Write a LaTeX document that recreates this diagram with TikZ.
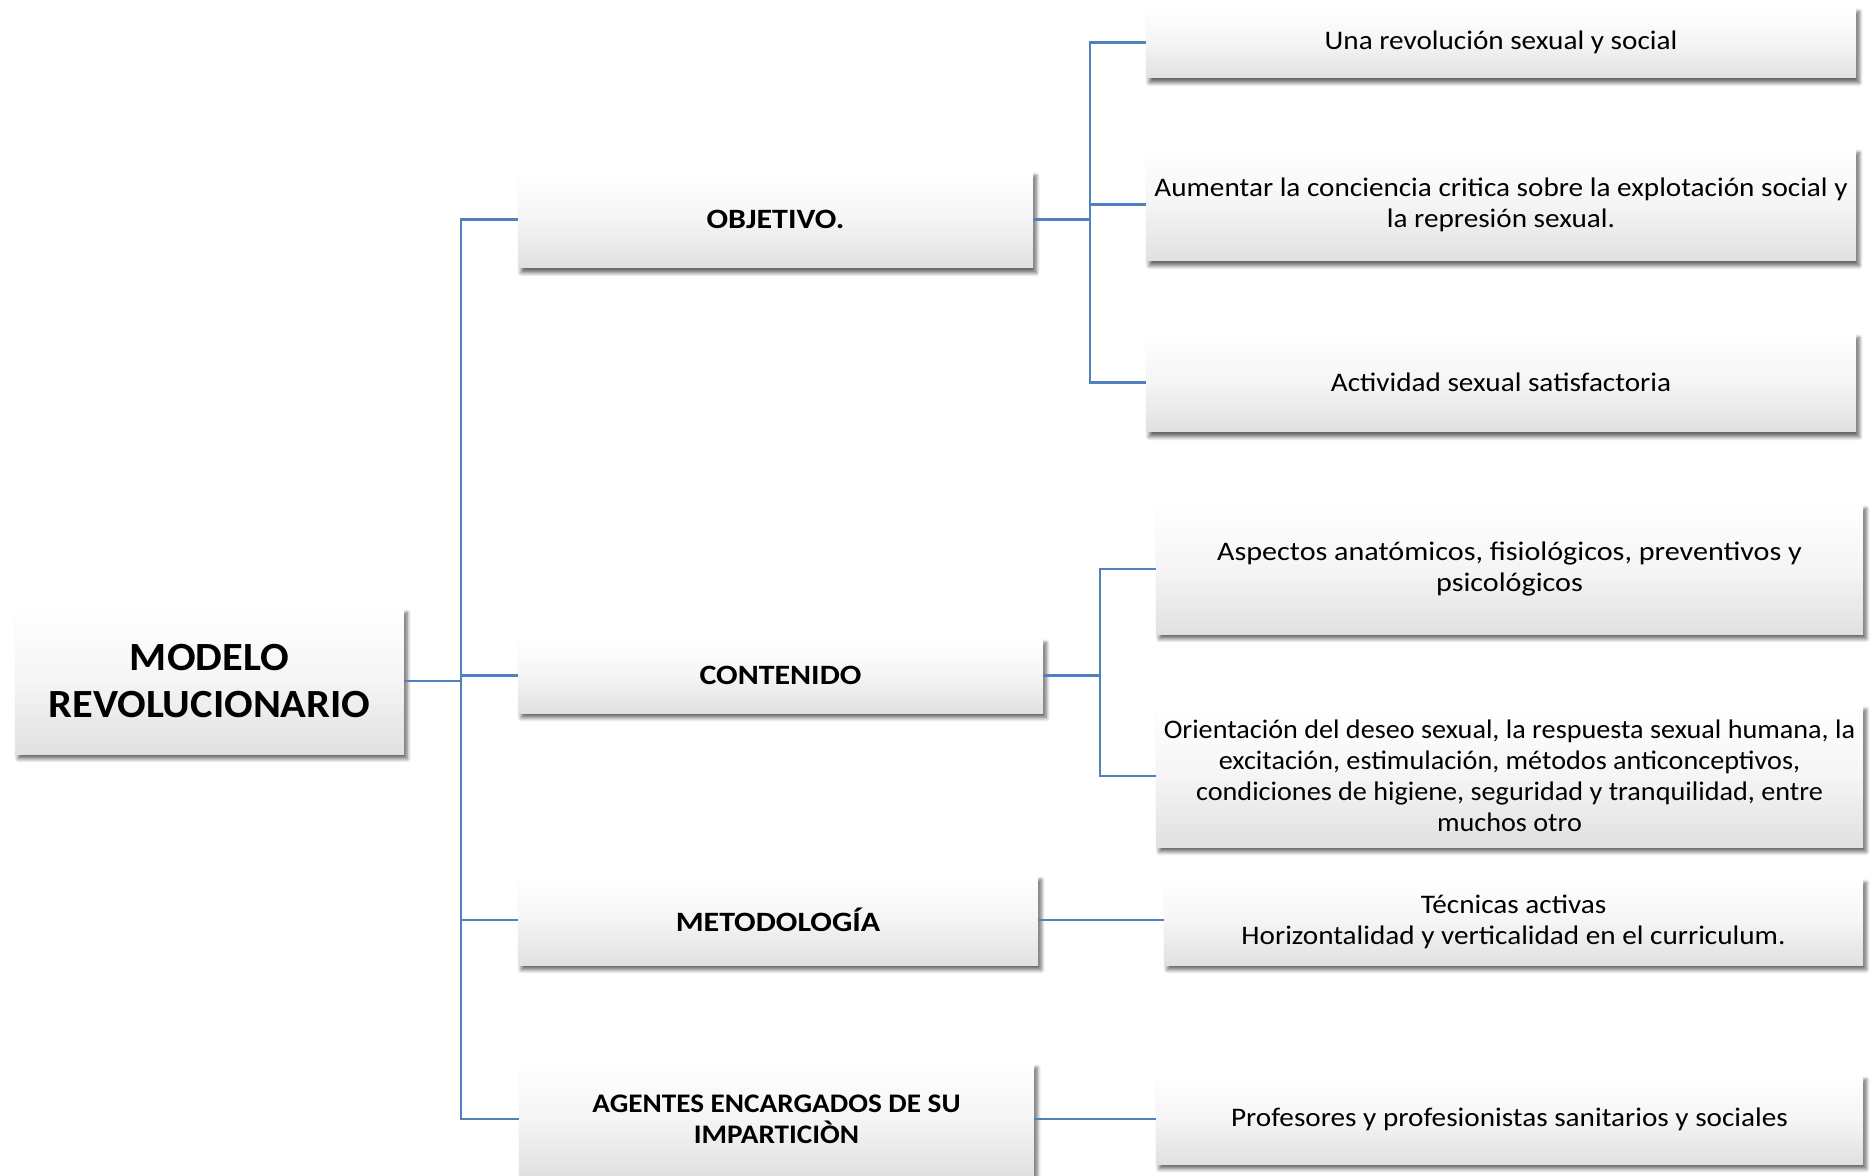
\documentclass[tikz,border=0pt]{standalone}
\usepackage{fontspec}
\setmainfont{Carlito}
\newfontfamily\leaffont[FakeStretch=1.09]{Carlito}
\newfontfamily\narrowfont[FakeStretch=1.052]{Carlito}
\newfontfamily\widefont[FakeStretch=1.125]{Carlito}
\newfontfamily\headfont[FakeStretch=1.14]{Carlito}
\newfontfamily\rootfont[FakeStretch=1.06]{Carlito}
\usetikzlibrary{shadows.blur}
\definecolor{linkblue}{RGB}{79,129,189}
\tikzset{
  x=0.5pt, y=-0.5pt,
  boxbase/.style={rectangle, inner sep=1pt, align=center, top color=white, bottom color=black!12,
    middle color=white!96!black,
    blur shadow={shadow xshift=1.6pt, shadow yshift=-2.4pt, shadow blur steps=6, shadow opacity=60}},
  leaf/.style={boxbase, font=\leaffont\fontsize{13.4}{15.5}\selectfont},
  leafnarrow/.style={boxbase, font=\narrowfont\fontsize{13.4}{15.5}\selectfont},
  leafwide/.style={boxbase, font=\widefont\fontsize{13.4}{15.5}\selectfont},
  head/.style={boxbase, font=\headfont\fontsize{14}{15.5}\selectfont\bfseries},
  headsmall/.style={boxbase, font=\leaffont\fontsize{13.4}{15.5}\selectfont\bfseries},
  rootbox/.style={boxbase, font=\rootfont\fontsize{20}{23.3}\selectfont\bfseries},
  link/.style={draw=linkblue, line width=1.35pt}
}
\begin{document}
\begin{tikzpicture}
\useasboundingbox (0,0) rectangle (1870,1176);
\clip (0,0) rectangle (1870,1176);
% root
\node[rootbox, minimum width=194.5pt, minimum height=73pt] (root) at (209.5,681) {MODELO\\REVOLUCIONARIO};
% level 1
\node[head, minimum width=257.5pt, minimum height=48.5pt] (obj) at (775.5,219.5) {OBJETIVO.};
\node[head, minimum width=262.5pt, minimum height=37.5pt] (cont) at (780.5,675.5) {CONTENIDO};
\node[head, minimum width=260pt, minimum height=45pt] (meto) at (778,920) {METODOLOGÍA};
\node[headsmall, minimum width=257.5pt, minimum height=56pt] (agen) at (776.5,1119) {AGENTES ENCARGADOS DE SU\\IMPARTICIÒN};
% level 2
\node[leaf, minimum width=355pt, minimum height=35.5pt] (u1) at (1501,42.5) {Una revolución sexual y social};
\node[leaf, minimum width=355pt, minimum height=56.5pt] (u2) at (1501,204.5) {Aumentar la conciencia critica sobre la explotación social y\\la represión sexual.};
\node[leaf, minimum width=355pt, minimum height=49.5pt] (u3) at (1501,382.5) {Actividad sexual satisfactoria};
\node[leafwide, minimum width=353.5pt, minimum height=65pt] (c1) at (1509.5,569) {Aspectos anatómicos, fisiológicos, preventivos y\\psicológicos};
\node[leafnarrow, minimum width=353.5pt, minimum height=71pt] (c2) at (1509.5,776) {Orientación del deseo sexual, la respuesta sexual humana, la\\excitación, estimulación, métodos anticonceptivos,\\condiciones de higiene, seguridad y tranquilidad, entre\\muchos otro};
\node[leaf, minimum width=349.5pt, minimum height=43.5pt] (m1) at (1513.5,921.5) {Técnicas activas\\Horizontalidad y verticalidad en el curriculum.};
\node[leaf, minimum width=353.5pt, minimum height=44.5pt] (a1) at (1509.5,1119.5) {Profesores y profesionistas sanitarios y sociales};
% connectors
\coordinate (trunk) at (461,681);
\coordinate (ob) at (1090,219.5);
\coordinate (co) at (1100,675.5);
\draw[link] (root.east) -- (trunk);
\draw[link] (obj.west) -| (trunk);
\draw[link] (cont.west) -| (trunk);
\draw[link] (meto.west) -| (trunk);
\draw[link] (agen.west) -| (trunk);
\draw[link] (obj.east) -- (ob);
\draw[link] (u1.west) -| (ob);
\draw[link] (u2.west) -| (ob);
\draw[link] (u3.west) -| (ob);
\draw[link] (cont.east) -- (co);
\draw[link] (c1.west) -| (co);
\draw[link] (c2.west) -| (co);
\draw[link] (meto.east) -- (meto.east -| m1.west);
\draw[link] (agen.east) -- (agen.east -| a1.west);
\end{tikzpicture}
\end{document}
